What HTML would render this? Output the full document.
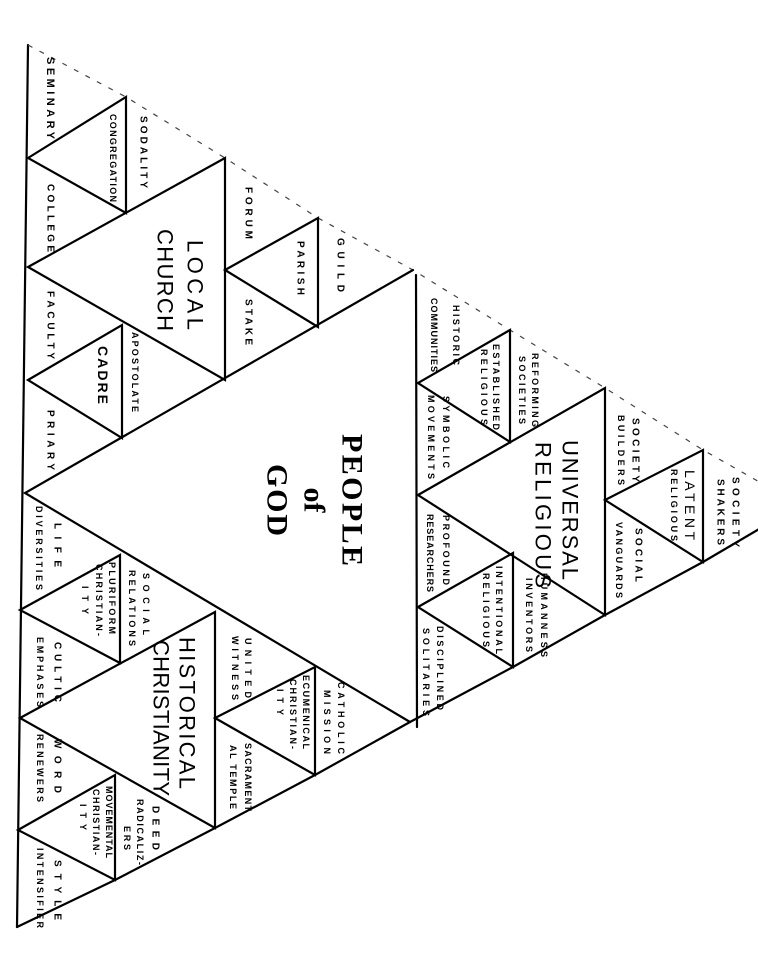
<!DOCTYPE html>
<html><head><meta charset="utf-8"><style>
html,body{margin:0;padding:0;background:#fff;}
svg{display:block;}
.s{stroke:#000;stroke-width:2.2;fill:none;stroke-linecap:round;}
.d{stroke:#444;stroke-width:1.2;fill:none;stroke-dasharray:5 8;}
text{font-family:"Liberation Sans",sans-serif;font-weight:bold;font-size:10px;fill:#000;text-anchor:middle;dominant-baseline:central;}
.m{font-weight:normal;font-size:22px;}
.p{font-family:"Liberation Serif",serif;font-size:30px;font-weight:bold;}
</style></head><body>
<svg width="758" height="960" viewBox="0 0 758 960" xmlns="http://www.w3.org/2000/svg">
<polyline class="s" points="28,45 17,927"/>
<polyline class="d" points="28,45 126,97 225,158 318,218 413,270 510,330 605,388 703,450 800,505"/>
<polyline class="s" points="17,927 115,880 215,828 315,775 410,722 513,667 605,615 703,562 800,505"/>
<polyline class="s" points="413,270 25,493 410,722"/>
<line class="s" x1="416" y1="275" x2="417" y2="727"/>
<polygon class="s" points="28,267 225,158 225,380"/>
<polygon class="s" points="28,158 126,97 126,213"/>
<polygon class="s" points="225,270 318,218 318,327"/>
<polygon class="s" points="28,380 122,325 122,438"/>
<polygon class="s" points="418,495 605,388 605,615"/>
<polygon class="s" points="418,383 510,330 510,442"/>
<polygon class="s" points="605,500 703,450 703,562"/>
<polygon class="s" points="418,607 513,553 513,667"/>
<polygon class="s" points="20,718 215,612 215,828"/>
<polygon class="s" points="20,610 120,555 120,663"/>
<polygon class="s" points="215,718 315,667 315,775"/>
<polygon class="s" points="18,830 115,775 115,880"/>

<g>
<text x="50" y="98" transform="rotate(90 50 98)" textLength="82" lengthAdjust="spacing" style="font-size:11px">SEMINARY</text>
<text x="113" y="158" transform="rotate(90 113 158)" textLength="88" lengthAdjust="spacing" style="font-size:9px">CONGREGATION</text>
<text x="143" y="152" transform="rotate(90 143 152)" textLength="72" lengthAdjust="spacing">SODALITY</text>
<text x="50" y="218" transform="rotate(90 50 218)" textLength="68" lengthAdjust="spacing">COLLEGE</text>
<text x="248" y="213" transform="rotate(90 248 213)" textLength="52" lengthAdjust="spacing">FORUM</text>
<text x="300" y="268" transform="rotate(90 300 268)" textLength="54" lengthAdjust="spacing">PARISH</text>
<text x="340" y="265" transform="rotate(90 340 265)" textLength="54" lengthAdjust="spacing">GUILD</text>
<text x="248" y="322" transform="rotate(90 248 322)" textLength="46" lengthAdjust="spacing">STAKE</text>
<text x="50" y="325" transform="rotate(90 50 325)" textLength="68" lengthAdjust="spacing">FACULTY</text>
<text x="103" y="375" transform="rotate(90 103 375)" textLength="58" lengthAdjust="spacing" style="font-size:14px">CADRE</text>
<text x="135" y="372" transform="rotate(90 135 372)" textLength="80" lengthAdjust="spacing" style="font-size:9px">APOSTOLATE</text>
<text x="50" y="440" transform="rotate(90 50 440)" textLength="60" lengthAdjust="spacing">PRIARY</text>
<text class="m" x="195" y="285" transform="rotate(90 195 285)" textLength="90" lengthAdjust="spacing">LOCAL</text>
<text class="m" x="165" y="280" transform="rotate(90 165 280)" textLength="102" lengthAdjust="spacing">CHURCH</text>

<text class="p" x="352" y="500" transform="rotate(90 352 500)" textLength="132" lengthAdjust="spacing">PEOPLE</text>
<text class="p" x="314" y="500" transform="rotate(90 314 500)">of</text>
<text class="p" x="277" y="500" transform="rotate(90 277 500)" textLength="72" lengthAdjust="spacing">GOD</text>

<text x="456" y="335" transform="rotate(90 456 335)" textLength="60" lengthAdjust="spacing" style="font-size:9px">HISTORIC</text>
<text x="434" y="335" transform="rotate(90 434 335)" textLength="74" lengthAdjust="spacing" style="font-size:9px">COMMUNITIES</text>
<text x="496" y="387" transform="rotate(90 496 387)" textLength="86" lengthAdjust="spacing" style="font-size:9px">ESTABLISHED</text>
<text x="484" y="387" transform="rotate(90 484 387)" textLength="76" lengthAdjust="spacing" style="font-size:9px">RELIGIOUS</text>
<text x="535" y="390" transform="rotate(90 535 390)" textLength="74" lengthAdjust="spacing" style="font-size:9px">REFORMING</text>
<text x="522" y="390" transform="rotate(90 522 390)" textLength="68" lengthAdjust="spacing" style="font-size:9px">SOCIETIES</text>
<text x="446" y="432" transform="rotate(90 446 432)" textLength="72" lengthAdjust="spacing" style="font-size:9px">SYMBOLIC</text>
<text x="431" y="437" transform="rotate(90 431 437)" textLength="84" lengthAdjust="spacing" style="font-size:9px">MOVEMENTS</text>
<text class="m" x="570" y="510" transform="rotate(90 570 510)" textLength="140" lengthAdjust="spacing">UNIVERSAL</text>
<text class="m" x="543" y="515" transform="rotate(90 543 515)" textLength="146" lengthAdjust="spacing">RELIGIOUS</text>
<text x="635" y="450" transform="rotate(90 635 450)" textLength="64" lengthAdjust="spacing">SOCIETY</text>
<text x="621" y="450" transform="rotate(90 621 450)" textLength="70" lengthAdjust="spacing" style="font-size:9px">BUILDERS</text>
<text x="690" y="505" transform="rotate(90 690 505)" textLength="70" lengthAdjust="spacing" style="font-size:14px;font-weight:normal">LATENT</text>
<text x="674" y="505" transform="rotate(90 674 505)" textLength="72" lengthAdjust="spacing" style="font-size:9px">RELIGIOUS</text>
<text x="735" y="512" transform="rotate(90 735 512)" textLength="70" lengthAdjust="spacing">SOCIETY</text>
<text x="720" y="512" transform="rotate(90 720 512)" textLength="66" lengthAdjust="spacing">SHAKERS</text>
<text x="638" y="555" transform="rotate(90 638 555)" textLength="54" lengthAdjust="spacing">SOCIAL</text>
<text x="619" y="560" transform="rotate(90 619 560)" textLength="76" lengthAdjust="spacing" style="font-size:9px">VANGUARDS</text>
<text x="446" y="550" transform="rotate(90 446 550)" textLength="70" lengthAdjust="spacing" style="font-size:9px">PROFOUND</text>
<text x="430" y="553" transform="rotate(90 430 553)" textLength="78" lengthAdjust="spacing" style="font-size:9px">RESEARCHERS</text>
<text x="499" y="610" transform="rotate(90 499 610)" textLength="88" lengthAdjust="spacing" style="font-size:9px">INTENTIONAL</text>
<text x="486" y="610" transform="rotate(90 486 610)" textLength="74" lengthAdjust="spacing" style="font-size:9px">RELIGIOUS</text>
<text x="544" y="615" transform="rotate(90 544 615)" textLength="84" lengthAdjust="spacing" style="font-size:9px">HUMANNESS</text>
<text x="529" y="615" transform="rotate(90 529 615)" textLength="74" lengthAdjust="spacing" style="font-size:9px">INVENTORS</text>
<text x="440" y="668" transform="rotate(90 440 668)" textLength="84" lengthAdjust="spacing" style="font-size:9px">DISCIPLINED</text>
<text x="426" y="672" transform="rotate(90 426 672)" textLength="88" lengthAdjust="spacing" style="font-size:9px">SOLITARIES</text>

<text x="57" y="545" transform="rotate(90 57 545)" textLength="44" lengthAdjust="spacing">LIFE</text>
<text x="39" y="548" transform="rotate(90 39 548)" textLength="84" lengthAdjust="spacing" style="font-size:9px">DIVERSITIES</text>
<text x="112" y="598" transform="rotate(90 112 598)" textLength="72" lengthAdjust="spacing" style="font-size:9px">PLURIFORM</text>
<text x="99" y="600" transform="rotate(90 99 600)" textLength="72" lengthAdjust="spacing" style="font-size:9px">CHRISTIAN-</text>
<text x="85" y="600" transform="rotate(90 85 600)" textLength="28" lengthAdjust="spacing" style="font-size:9px">ITY</text>
<text x="146" y="604" transform="rotate(90 146 604)" textLength="62" lengthAdjust="spacing" style="font-size:9px">SOCIAL</text>
<text x="132" y="608" transform="rotate(90 132 608)" textLength="76" lengthAdjust="spacing" style="font-size:9px">RELATIONS</text>
<text x="57" y="672" transform="rotate(90 57 672)" textLength="60" lengthAdjust="spacing">CULTIC</text>
<text x="40" y="672" transform="rotate(90 40 672)" textLength="70" lengthAdjust="spacing" style="font-size:9px">EMPHASES</text>
<text class="m" x="187" y="713" transform="rotate(90 187 713)" textLength="152" lengthAdjust="spacing">HISTORICAL</text>
<text class="m" x="161" y="718" transform="rotate(90 161 718)" textLength="156" lengthAdjust="spacing">CHRISTIANITY</text>
<text x="248" y="668" transform="rotate(90 248 668)" textLength="60" lengthAdjust="spacing" style="font-size:9px">UNITED</text>
<text x="235" y="668" transform="rotate(90 235 668)" textLength="64" lengthAdjust="spacing" style="font-size:9px">WITNESS</text>
<text x="306" y="712" transform="rotate(90 306 712)" textLength="74" lengthAdjust="spacing" style="font-size:9px">ECUMENICAL</text>
<text x="293" y="714" transform="rotate(90 293 714)" textLength="70" lengthAdjust="spacing" style="font-size:9px">CHRISTIAN-</text>
<text x="280" y="702" transform="rotate(90 280 702)" textLength="26" lengthAdjust="spacing" style="font-size:9px">ITY</text>
<text x="341" y="718" transform="rotate(90 341 718)" textLength="72" lengthAdjust="spacing" style="font-size:9px">CATHOLIC</text>
<text x="327" y="722" transform="rotate(90 327 722)" textLength="64" lengthAdjust="spacing" style="font-size:9px">MISSION</text>
<text x="248" y="777" transform="rotate(90 248 777)" textLength="68" lengthAdjust="spacing" style="font-size:9px">SACRAMENT</text>
<text x="233" y="777" transform="rotate(90 233 777)" textLength="64" lengthAdjust="spacing" style="font-size:9px">AL TEMPLE</text>
<text x="57" y="766" transform="rotate(90 57 766)" textLength="54" lengthAdjust="spacing">WORD</text>
<text x="40" y="768" transform="rotate(90 40 768)" textLength="68" lengthAdjust="spacing" style="font-size:9px">RENEWERS</text>
<text x="109" y="822" transform="rotate(90 109 822)" textLength="72" lengthAdjust="spacing" style="font-size:9px">MOVEMENTAL</text>
<text x="96" y="822" transform="rotate(90 96 822)" textLength="66" lengthAdjust="spacing" style="font-size:9px">CHRISTIAN-</text>
<text x="83" y="817" transform="rotate(90 83 817)" textLength="26" lengthAdjust="spacing" style="font-size:9px">ITY</text>
<text x="155" y="828" transform="rotate(90 155 828)" textLength="44" lengthAdjust="spacing">DEED</text>
<text x="140" y="832" transform="rotate(90 140 832)" textLength="66" lengthAdjust="spacing" style="font-size:9px">RADICALIZ-</text>
<text x="127" y="838" transform="rotate(90 127 838)" textLength="24" lengthAdjust="spacing" style="font-size:9px">ERS</text>
<text x="57" y="890" transform="rotate(90 57 890)" textLength="60" lengthAdjust="spacing">STYLE</text>
<text x="40" y="888" transform="rotate(90 40 888)" textLength="80" lengthAdjust="spacing" style="font-size:9px">INTENSIFIER</text>
</g>
</svg>
</body></html>
